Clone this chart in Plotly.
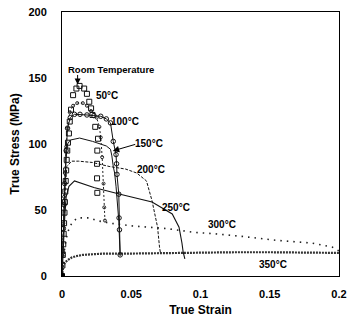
import plotly.graph_objects as go

# ---- data (true strain, true stress in MPa) ----
rt_strain = [0, 0.0003, 0.0006, 0.0009, 0.0012, 0.0015, 0.0018, 0.0021, 0.0024, 0.0027, 0.003,
             0.0034, 0.0038, 0.0043, 0.005, 0.0056, 0.0065, 0.008, 0.0104, 0.0127, 0.016, 0.018,
             0.0197, 0.021, 0.022, 0.024, 0.026, 0.0255, 0.0253, 0.0253, 0.0255]
rt_stress = [0, 8, 16, 24, 32, 40, 48, 56, 64, 72, 80, 88, 95, 101, 108, 117, 126, 137, 142, 144,
             142, 138, 132, 127, 122, 113, 104, 95, 85, 74, 63]

t50_strain = [0, 0.0005, 0.001, 0.0015, 0.002, 0.003, 0.004, 0.0056, 0.008, 0.011, 0.015, 0.018,
              0.021, 0.025, 0.027, 0.028, 0.029, 0.030, 0.0305, 0.031]
t50_stress = [0, 20, 40, 60, 78, 98, 112, 124, 129, 131, 131, 129, 125, 120, 113, 105, 90, 70, 52, 42]

t100_strain = [0, 0.0005, 0.001, 0.0015, 0.002, 0.003, 0.004, 0.006, 0.009, 0.013, 0.018, 0.023,
               0.028, 0.032, 0.035, 0.037, 0.039, 0.0394, 0.0397, 0.041, 0.0412, 0.0415, 0.042]
t100_stress = [0, 18, 36, 54, 70, 95, 112, 120, 122.5, 122.5, 122, 121.5, 121, 119, 116, 102, 92,
               85, 77, 62, 44, 35, 16]

t150_strain = [0, 0.0005, 0.001, 0.002, 0.003, 0.004, 0.006, 0.0127, 0.022, 0.032, 0.035, 0.036,
               0.037, 0.038, 0.039, 0.040, 0.041, 0.0415, 0.042]
t150_stress = [0, 22, 42, 70, 90, 100, 103, 104.5, 102, 98.5, 96, 91, 83, 78, 68, 55, 42, 28, 15]

t200_strain = [0, 0.001, 0.002, 0.0035, 0.007, 0.012, 0.022, 0.034, 0.046, 0.054, 0.061, 0.065,
               0.069, 0.0704, 0.071]
t200_stress = [0, 30, 60, 83, 87, 87, 86, 83, 81, 78, 72, 57, 37, 22, 18]

t250_strain = [0, 0.001, 0.002, 0.003, 0.005, 0.009, 0.012, 0.023, 0.042, 0.065, 0.0796, 0.0845,
               0.0866, 0.0875, 0.0887]
t250_stress = [0, 25, 45, 60, 68, 72, 71, 67, 62, 56, 47, 37, 25, 18, 13]

t300_strain = [0, 0.001, 0.002, 0.004, 0.007, 0.011, 0.02, 0.025, 0.035, 0.05, 0.075, 0.096, 0.11,
               0.13, 0.155, 0.18, 0.195, 0.2]
t300_stress = [0, 12, 22, 33, 40, 44, 44, 42, 40, 38, 36, 33, 32, 30, 27, 25, 22, 19]

t350_strain = [0, 0.0005, 0.001, 0.002, 0.004, 0.007, 0.01, 0.015, 0.02, 0.03, 0.05, 0.075, 0.1,
               0.125, 0.15, 0.175, 0.2]
t350_stress = [0, 5, 8, 10, 12, 14, 15, 16, 16.5, 17, 17, 17.5, 18, 18, 18, 18, 17.5]

x_ticks = [0, 0.05, 0.1, 0.15, 0.2]
x_tick_labels = ["0", "0.05", "0.1", "0.15", "0.2"]
y_ticks = [0, 50, 100, 150, 200]
y_tick_labels = ["0", "50", "100", "150", "200"]

FONT = "Liberation Sans, Arial, sans-serif"
fig = go.Figure()

fig.add_trace(go.Scatter(x=t350_strain, y=t350_stress, mode="lines",
                         line=dict(color="#333", width=2.2, dash="2px,1px")))
fig.add_trace(go.Scatter(x=t300_strain, y=t300_stress, mode="lines",
                         line=dict(color="#222", width=1.6, dash="1.5px,5px")))
fig.add_trace(go.Scatter(x=t250_strain, y=t250_stress, mode="lines",
                         line=dict(color="#111", width=1.1)))
fig.add_trace(go.Scatter(x=t200_strain, y=t200_stress, mode="lines",
                         line=dict(color="#111", width=1, dash="3px,1.5px")))
fig.add_trace(go.Scatter(x=t150_strain, y=t150_stress, mode="lines",
                         line=dict(color="#111", width=1)))
fig.add_trace(go.Scatter(x=t100_strain, y=t100_stress, mode="lines+markers",
                         line=dict(color="#111", width=1),
                         marker=dict(symbol="circle-open", size=4.5, color="#111", line=dict(width=1))))
fig.add_trace(go.Scatter(x=t50_strain, y=t50_stress, mode="lines+markers",
                         line=dict(color="#222", width=1, dash="2px,2px"),
                         marker=dict(symbol="circle-open", size=3, color="#222", line=dict(width=1))))
fig.add_trace(go.Scatter(x=rt_strain, y=rt_stress, mode="markers",
                         marker=dict(symbol="square-open", size=5, color="#111", line=dict(width=1))))
fig.add_trace(go.Scatter(x=[rt_strain[0]], y=[rt_stress[0]], mode="markers",
                         marker=dict(symbol="circle", size=6, color="#000")))

def px2data(px, py):
    return (px - 62) / 1420.0, (276 - py) / 1.33

labels = [("Room Temperature", 112, 68, 9.5), ("50°C", 108, 94, 10), ("100°C", 127, 120, 10),
          ("150°C", 151, 142, 10), ("200°C", 153, 169, 10), ("250°C", 179, 207, 10),
          ("300°C", 226, 224, 10), ("350°C", 278, 264, 10)]
ann = []
for txt, px, py, fs in labels:
    x, y = px2data(px, py)
    ann.append(dict(x=x, y=y, text="<b>" + txt + "</b>", showarrow=False,
                    font=dict(family=FONT, size=fs, color="#000"), xanchor="center", yanchor="middle"))

# arrows
tx, ty = px2data(78, 83)
ann.append(dict(x=tx, y=ty, ax=0, ay=-11, text="", showarrow=True, arrowhead=2, arrowsize=1.2,
                arrowwidth=1, arrowcolor="#000"))
tx, ty = px2data(114, 150)
ann.append(dict(x=tx, y=ty, ax=24, ay=-7, text="", showarrow=True, arrowhead=2, arrowsize=1.3,
                arrowwidth=1, arrowcolor="#000"))

fig.update_layout(
    width=353, height=331, showlegend=False,
    margin=dict(l=62, r=6, t=10, b=55),
    paper_bgcolor="white", plot_bgcolor="white",
    annotations=ann,
    font=dict(family=FONT, color="#000"),
)
fig.update_xaxes(range=[0, 0.2], tickvals=x_ticks, ticktext=["<b>" + t + "</b>" for t in x_tick_labels],
                 showgrid=False, zeroline=False, showline=True, mirror=True, linecolor="#000", linewidth=1,
                 ticks="outside", ticklen=8, tickcolor="rgba(0,0,0,0)", ticklabeloverflow="allow",
                 tickfont=dict(family=FONT, size=11),
                 title=dict(text="<b>True Strain</b>", font=dict(family=FONT, size=12), standoff=6))
fig.update_yaxes(range=[0, 200], tickvals=y_ticks, ticktext=["<b>" + t + "</b>" for t in y_tick_labels],
                 showgrid=False, zeroline=False, showline=True, mirror=True, linecolor="#000", linewidth=1,
                 ticks="outside", ticklen=12, tickcolor="rgba(0,0,0,0)",
                 tickfont=dict(family=FONT, size=11),
                 title=dict(text="<b>True Stress (MPa)</b>", font=dict(family=FONT, size=12), standoff=6))

fig.write_html("out.html")
